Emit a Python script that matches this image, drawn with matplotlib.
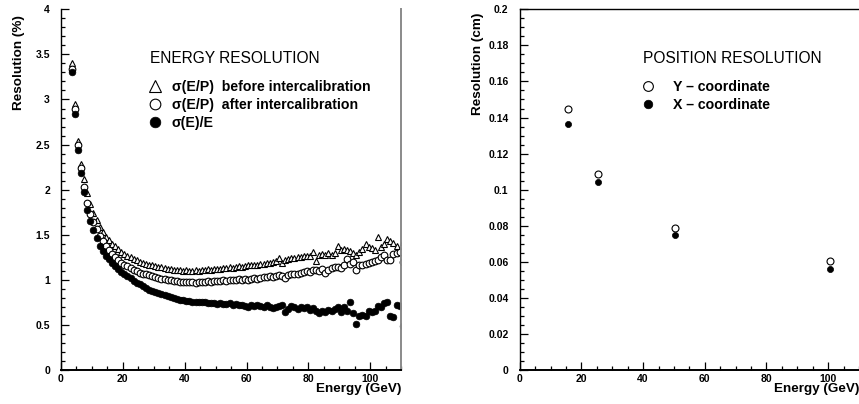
"""Energy and position resolution vs beam energy (two panels) -> out.png."""

import matplotlib

matplotlib.use("Agg")
import matplotlib.pyplot as plt
from matplotlib.ticker import MultipleLocator

plt.rcParams["font.family"] = ["Liberation Sans", "DejaVu Sans"]

# --- left panel: energy resolution (%) per 1 GeV bin -------------------------
energy_bins = [
    3.5, 4.5, 5.5, 6.5, 7.5, 8.5, 9.5, 10.5, 11.5, 12.5,
    13.5, 14.5, 15.5, 16.5, 17.5, 18.5, 19.5, 20.5, 21.5, 22.5,
    23.5, 24.5, 25.5, 26.5, 27.5, 28.5, 29.5, 30.5, 31.5, 32.5,
    33.5, 34.5, 35.5, 36.5, 37.5, 38.5, 39.5, 40.5, 41.5, 42.5,
    43.5, 44.5, 45.5, 46.5, 47.5, 48.5, 49.5, 50.5, 51.5, 52.5,
    53.5, 54.5, 55.5, 56.5, 57.5, 58.5, 59.5, 60.5, 61.5, 62.5,
    63.5, 64.5, 65.5, 66.5, 67.5, 68.5, 69.5, 70.5, 71.5, 72.5,
    73.5, 74.5, 75.5, 76.5, 77.5, 78.5, 79.5, 80.5, 81.5, 82.5,
    83.5, 84.5, 85.5, 86.5, 87.5, 88.5, 89.5, 90.5, 91.5, 92.5,
    93.5, 94.5, 95.5, 96.5, 97.5, 98.5, 99.5, 100.5, 101.5, 102.5,
    103.5, 104.5, 105.5, 106.5, 107.5, 108.5, 109.5, 110.5,
]

ep_before = [
    3.40, 2.95, 2.54, 2.29, 2.12, 1.96, 1.84, 1.74, 1.66, 1.59,
    1.53, 1.48, 1.44, 1.40, 1.37, 1.34, 1.31, 1.29, 1.27, 1.25,
    1.23, 1.22, 1.20, 1.19, 1.18, 1.17, 1.16, 1.15, 1.14, 1.14,
    1.13, 1.12, 1.12, 1.11, 1.11, 1.11, 1.10, 1.11, 1.10, 1.10,
    1.11, 1.10, 1.11, 1.11, 1.12, 1.11, 1.12, 1.12, 1.12, 1.13,
    1.13, 1.14, 1.13, 1.14, 1.15, 1.14, 1.15, 1.16, 1.16, 1.17,
    1.17, 1.18, 1.18, 1.19, 1.19, 1.20, 1.21, 1.24, 1.19, 1.22,
    1.23, 1.24, 1.24, 1.25, 1.25, 1.26, 1.27, 1.27, 1.31, 1.21,
    1.28, 1.29, 1.28, 1.30, 1.28, 1.30, 1.37, 1.33, 1.34, 1.33,
    1.32, 1.30, 1.28, 1.31, 1.34, 1.40, 1.36, 1.35, 1.33, 1.47,
    1.36, 1.40, 1.45, 1.43, 1.41, 1.38, 1.33, 1.42,
]

ep_after = [
    3.34, 2.89, 2.49, 2.24, 2.03, 1.85, 1.73, 1.64, 1.56, 1.49,
    1.43, 1.38, 1.33, 1.29, 1.25, 1.22, 1.19, 1.17, 1.15, 1.13,
    1.11, 1.10, 1.08, 1.07, 1.06, 1.05, 1.04, 1.03, 1.02, 1.01,
    1.01, 1.00, 1.00, 0.99, 0.99, 0.98, 0.98, 0.98, 0.98, 0.98,
    0.97, 0.98, 0.98, 0.98, 0.99, 0.98, 0.99, 0.99, 0.99, 1.00,
    0.99, 1.00, 1.00, 1.00, 1.01, 1.00, 1.01, 1.00, 1.01, 1.02,
    1.01, 1.02, 1.03, 1.03, 1.04, 1.03, 1.04, 1.05, 1.04, 1.02,
    1.05, 1.06, 1.07, 1.07, 1.08, 1.09, 1.10, 1.09, 1.11, 1.11,
    1.10, 1.12, 1.08, 1.11, 1.13, 1.14, 1.14, 1.13, 1.16, 1.23,
    1.18, 1.20, 1.11, 1.16, 1.17, 1.18, 1.19, 1.20, 1.21, 1.22,
    1.25, 1.28, 1.22, 1.22, 1.29, 1.30, 1.31, 1.20,
]

e_over_e = [
    3.30, 2.84, 2.44, 2.18, 1.97, 1.78, 1.65, 1.55, 1.46, 1.38,
    1.32, 1.27, 1.23, 1.19, 1.15, 1.12, 1.09, 1.07, 1.04, 1.02,
    0.99, 0.97, 0.95, 0.93, 0.91, 0.89, 0.88, 0.86, 0.85, 0.84,
    0.83, 0.82, 0.81, 0.80, 0.79, 0.78, 0.78, 0.77, 0.77, 0.76,
    0.76, 0.75, 0.75, 0.76, 0.74, 0.74, 0.74, 0.73, 0.74, 0.73,
    0.73, 0.74, 0.72, 0.73, 0.72, 0.72, 0.71, 0.70, 0.72, 0.71,
    0.72, 0.71, 0.70, 0.72, 0.70, 0.69, 0.70, 0.71, 0.72, 0.64,
    0.68, 0.71, 0.70, 0.68, 0.70, 0.69, 0.70, 0.67, 0.69, 0.66,
    0.63, 0.66, 0.64, 0.67, 0.65, 0.68, 0.70, 0.64, 0.70, 0.66,
    0.76, 0.63, 0.51, 0.60, 0.61, 0.60, 0.65, 0.64, 0.66, 0.71,
    0.70, 0.74, 0.76, 0.60, 0.59, 0.72, 0.71, 0.49,
]

# --- right panel: position resolution (cm) ----------------------------------
beam_energy = [15.5, 25.5, 50.5, 100.5]
y_coord = [0.1445, 0.1085, 0.0789, 0.0603]
x_coord = [0.1366, 0.1044, 0.0749, 0.0562]

TICK_SIZE = 7.5
LABEL_FONT = dict(fontsize=9.7, fontweight="bold")
LEGEND_PROP = dict(size=10.2, weight="bold")


def _style(ax, xmax, ymax, ymajor, yminor):
    ax.set_xlim(0, xmax)
    ax.set_ylim(0, ymax)
    ax.xaxis.set_major_locator(MultipleLocator(20))
    ax.xaxis.set_minor_locator(MultipleLocator(5))
    ax.yaxis.set_major_locator(MultipleLocator(ymajor))
    ax.yaxis.set_minor_locator(MultipleLocator(yminor))
    ax.yaxis.set_major_formatter(lambda v, pos: f"{v:g}")
    ax.tick_params(which="both", direction="in", width=0.9, top=False, right=False)
    ax.tick_params(which="major", length=6)
    ax.tick_params(which="minor", length=3)
    ax.tick_params(axis="y", pad=8)
    ax.tick_params(axis="x", pad=3)
    for lab in ax.get_xticklabels() + ax.get_yticklabels():
        lab.set_fontsize(TICK_SIZE)
        lab.set_fontweight("bold")
    ax.spines["left"].set_linewidth(1.0)
    ax.spines["bottom"].set_linewidth(1.4)
    ax.set_xlabel("Energy (GeV)", loc="right", **LABEL_FONT)
    ax.xaxis.set_label_coords(1.0, -0.037)


fig = plt.figure(figsize=(8.59, 4.04), dpi=100)
ax1 = fig.add_axes([0.071, 0.084, 0.396, 0.893])
ax2 = fig.add_axes([0.605, 0.084, 0.395, 0.893])

# left panel
h_before, = ax1.plot(energy_bins, ep_before, ls="none", marker="^", ms=5.0,
                     mfc="white", mec="black", mew=0.8)
h_after, = ax1.plot(energy_bins, ep_after, ls="none", marker="o", ms=4.8,
                    mfc="white", mec="black", mew=0.8)
h_ee, = ax1.plot(energy_bins, e_over_e, ls="none", marker="o", ms=4.8,
                 mfc="black", mec="black", mew=0.5)
_style(ax1, 110, 4, 0.5, 0.1)
ax1.spines["top"].set_visible(False)
ax1.spines["right"].set_color("#8a8a8a")
ax1.spines["right"].set_linewidth(1.4)
ax1.set_ylabel("Resolution (%)", loc="top", **LABEL_FONT)
ax1.yaxis.set_label_coords(-0.105, 0.985)
ax1.text(0.262, 0.851, "ENERGY RESOLUTION", transform=ax1.transAxes,
         fontsize=11.2, va="baseline", ha="left")
ax1.legend([h_before, h_after, h_ee],
           ["σ(E/P)  before intercalibration",
            "σ(E/P)  after intercalibration",
            "σ(E)/E"],
           loc="upper left", bbox_to_anchor=(0.256, 0.803), frameon=False,
           markerscale=1.6, handlelength=1.0, handletextpad=0.68,
           labelspacing=0.27, borderpad=0, borderaxespad=0,
           prop=LEGEND_PROP)

# right panel
h_y, = ax2.plot(beam_energy, y_coord, ls="none", marker="o", ms=5.0,
                mfc="white", mec="black", mew=0.8)
h_x, = ax2.plot(beam_energy, x_coord, ls="none", marker="o", ms=4.4,
                mfc="black", mec="black", mew=0.5)
_style(ax2, 110, 0.2, 0.02, 0.005)
ax2.spines["right"].set_visible(False)
ax2.spines["top"].set_linewidth(1.0)
ax2.set_ylabel("Resolution (cm)", loc="top", **LABEL_FONT)
ax2.yaxis.set_label_coords(-0.105, 0.99)
ax2.text(0.363, 0.851, "POSITION RESOLUTION", transform=ax2.transAxes,
         fontsize=11.2, va="baseline", ha="left")
ax2.legend([h_y, h_x], ["Y – coordinate", "X – coordinate"],
           loc="upper left", bbox_to_anchor=(0.357, 0.803), frameon=False,
           markerscale=1.4, handlelength=1.0, handletextpad=1.24,
           labelspacing=0.27, borderpad=0, borderaxespad=0,
           prop=LEGEND_PROP)

fig.savefig("out.png", dpi=100)
plt.close(fig)
